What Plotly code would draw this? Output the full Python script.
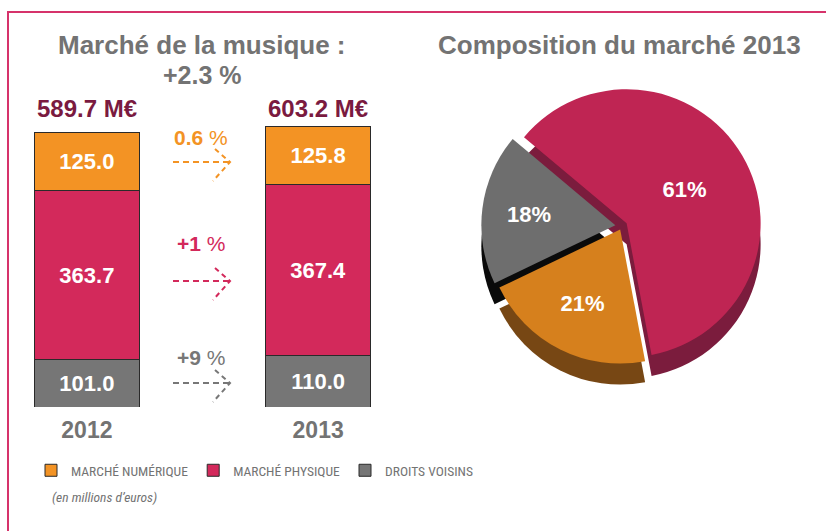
import plotly.graph_objects as go

W, H = 826, 531

# ---- data ----
years = ["2012", "2013"]
series_names = ["DROITS VOISINS", "MARCHÉ PHYSIQUE", "MARCHÉ NUMÉRIQUE"]
droits = [101.0, 110.0]
physique = [363.7, 367.4]
numerique = [125.0, 125.8]
growth_labels = ["0.6 %", "+1 %", "+9 %"]          # numérique, physique, droits
total_growth_label = "+2.3 %"
pie_labels = ["Marché physique", "Marché numérique", "Droits voisins"]
pie_values = [physique[1], numerique[1], droits[1]]

# ---- styles ----
bar_colors = ["#767676", "#d3295b", "#f39324"]
pie_colors = ["#bf2553", "#d6801d", "#6e6e6e"]
pie_side_colors = ["#7b1c3d", "#774714", "#0a0a0a"]
grey_txt = "#737373"
maroon = "#7a1a40"
FONT = "Liberation Sans, Arial, sans-serif"
NARROW = "Liberation Sans Narrow, Arial Narrow, Roboto Condensed, Liberation Sans, sans-serif"


def px(x):
    return x / W


def py(y):
    return (H - y) / H


fig = go.Figure()

series = [droits, physique, numerique]
for name, vals, col in zip(series_names, series, bar_colors):
    fig.add_trace(go.Bar(
        x=years, y=vals, name=name,
        marker=dict(color=col, line=dict(color="#2a2a2a", width=1)),
        width=0.455,
        text=vals, texttemplate="%{y:.1f}", textposition="inside",
        insidetextanchor="middle", constraintext="none",
        textfont=dict(color="white", size=22, family=FONT, weight="bold"),
        hoverinfo="skip",
    ))

# pie: dark "side" copy under the top face for a 3D look
pie_r = 134
pull = [0.04, 0.03, 0.05]
half = pie_r * (1 + max(pull))
cx, cy = 622, 226
side = 21
fig.add_trace(go.Pie(
    labels=pie_labels, values=pie_values, sort=False, direction="clockwise",
    rotation=-50, pull=pull, textinfo="none", showlegend=False, hoverinfo="skip",
    marker=dict(colors=pie_side_colors, line=dict(width=0)),
    domain=dict(x=[px(cx - half), px(cx + half)], y=[py(cy + side + half), py(cy + side - half)]),
))
fig.add_trace(go.Pie(
    labels=pie_labels, values=pie_values, sort=False, direction="clockwise",
    rotation=-50, pull=pull, texttemplate="%{percent:.0%}", textposition="inside",
    insidetextorientation="horizontal",
    textfont=dict(color="white", size=22, family=FONT, weight="bold"),
    showlegend=False, hoverinfo="skip",
    marker=dict(colors=pie_colors, line=dict(width=0)),
    domain=dict(x=[px(cx - half), px(cx + half)], y=[py(cy + half), py(cy - half)]),
))

annotations = []
# totals above bars
totals = [d + p + n for d, p, n in zip(droits, physique, numerique)]
for i, tot in enumerate(totals):
    annotations.append(dict(
        x=i, xref="x", y=py(108), yref="paper", text=f"{tot:.1f} M€",
        showarrow=False, font=dict(size=24, color=maroon, family=FONT, weight="bold"),
        xanchor="center", yanchor="middle",
    ))


def note(x, y, text, size, color, weight="bold", family=FONT, xanchor="center"):
    annotations.append(dict(x=px(x), y=py(y), xref="paper", yref="paper",
                            text=text, showarrow=False, xanchor=xanchor, yanchor="middle",
                            font=dict(size=size, color=color, family=family, weight=weight)))


# titles
note(202, 45, "Marché de la musique :", 26, grey_txt)
note(202, 75, total_growth_label, 25, grey_txt)
note(619, 45, "Composition du marché 2013", 26, grey_txt)
note(50, 497, "<i>(en millions d’euros)</i>", 13.5, grey_txt, weight="normal",
     family=NARROW, xanchor="left")

# growth labels and dashed arrows
growth_colors = ["#f39324", "#d3295b", "#777777"]
label_y = [137, 243, 357]
arrow_y = [162, 281, 383]
shapes = []
for lab, col, ly, ay in zip(growth_labels, growth_colors, label_y, arrow_y):
    num, pct = lab.split(" ")
    note(201, ly, f"<b>{num}</b> {pct}", 21, col, weight="normal")
    shapes.append(dict(type="line", xref="paper", yref="paper",
                       x0=px(173), x1=px(229), y0=py(ay), y1=py(ay),
                       line=dict(color=col, width=2, dash="6px,4px")))
    path = (f"M{px(215)},{py(ay - 13)} L{px(230)},{py(ay)} L{px(213)},{py(ay + 19)}")
    shapes.append(dict(type="path", xref="paper", yref="paper", path=path,
                       line=dict(color=col, width=2, dash="5px,4px")))

# pink frame (top and left edges visible)
shapes.append(dict(type="rect", xref="paper", yref="paper", layer="below",
                   x0=px(8), x1=1.2, y0=-0.2, y1=py(12),
                   line=dict(color="#d6336b", width=2)))

fig.update_layout(
    width=W, height=H,
    margin=dict(l=0, r=0, t=0, b=0),
    paper_bgcolor="white", plot_bgcolor="white",
    barmode="stack",
    showlegend=True,
    legend=dict(orientation="h", x=px(31), y=py(455), xanchor="left", yanchor="top",
                traceorder="reversed",
                font=dict(size=13.5, color=grey_txt, family=NARROW),
                bgcolor="rgba(0,0,0,0)"),
    xaxis=dict(type="category", domain=[px(17.5), px(387.5)], range=[-0.3, 1.3],
               showgrid=False, zeroline=False, showline=False, ticks="",
               ticklabelstandoff=7,
               tickfont=dict(size=23, color=grey_txt, family=FONT, weight="bold"),
               fixedrange=True),
    yaxis=dict(domain=[py(407), py(81)], range=[0, 700], visible=False, fixedrange=True),
    annotations=annotations,
    shapes=shapes,
    font=dict(family=FONT),
)

fig.write_html("out.html", config={"displayModeBar": False},
               post_script="document.body.style.margin='0px';")
